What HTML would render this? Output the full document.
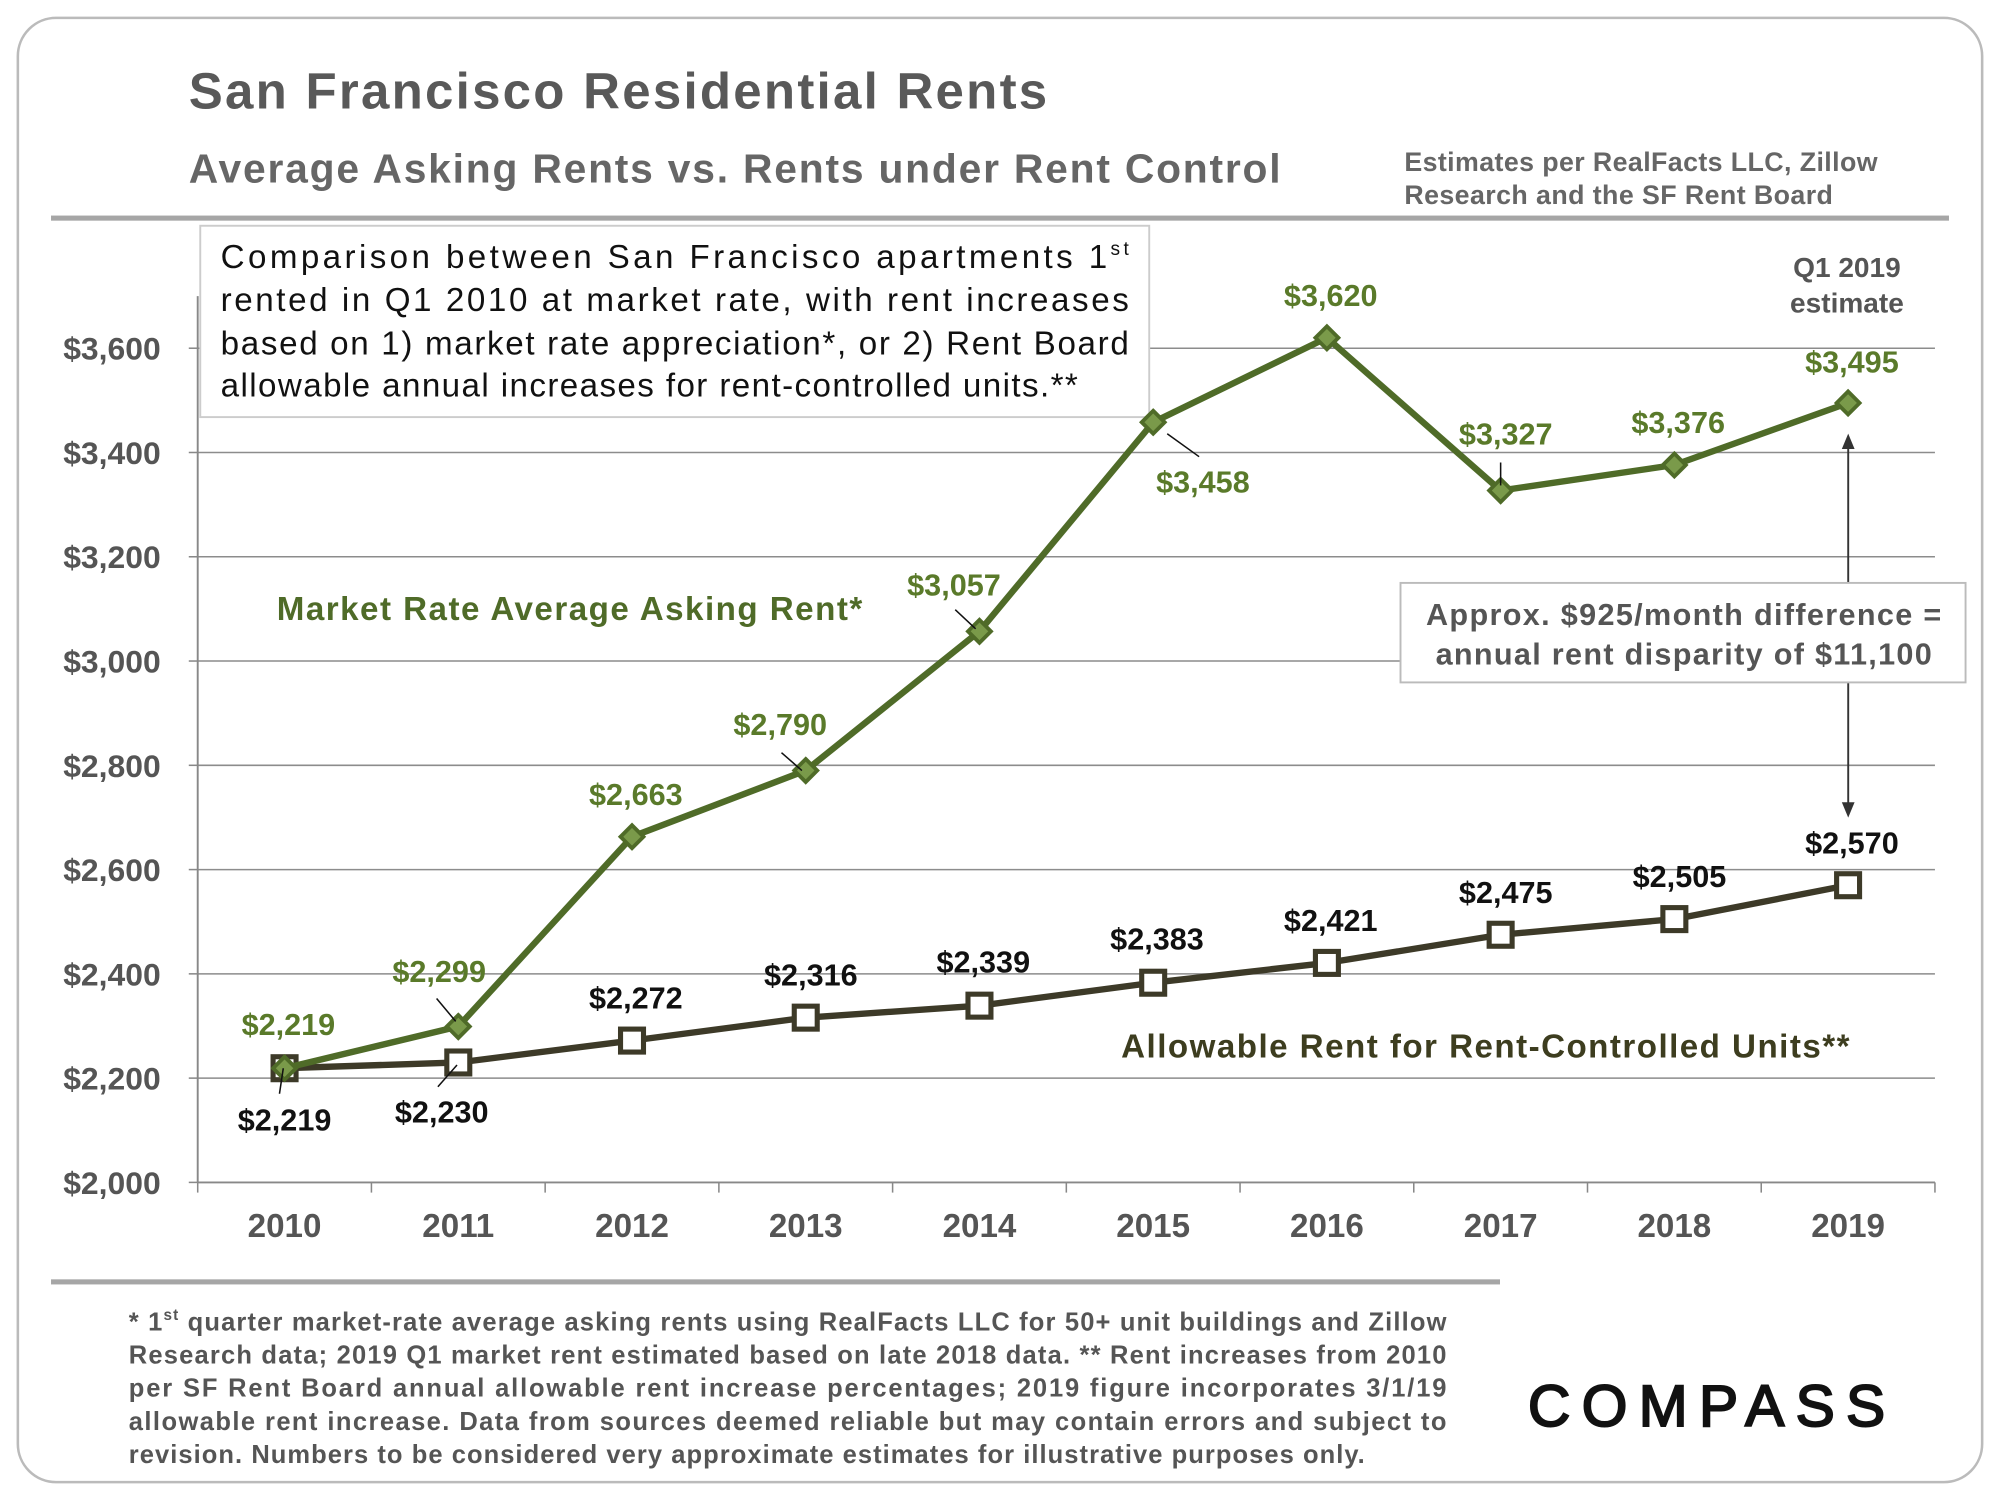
<!DOCTYPE html>
<html><head><meta charset="utf-8"><style>
html,body{margin:0;padding:0;background:#fff}
svg{display:block;font-family:"Liberation Sans",Arial,sans-serif}
</style></head><body>
<svg width="2000" height="1500" viewBox="0 0 1568 1176" xmlns="http://www.w3.org/2000/svg">
<rect x="14" y="14" width="1540" height="1148" rx="30" fill="#fff" stroke="#bbb" stroke-width="2"/>
<text x="148" y="85" font-size="40" font-weight="bold" fill="#595959" textLength="673">San Francisco Residential Rents</text>
<text x="148" y="143" font-size="32" font-weight="bold" fill="#666" textLength="856">Average Asking Rents vs. Rents under Rent Control</text>
<text x="1101" y="134" font-size="21" font-weight="bold" fill="#666" textLength="371">Estimates per RealFacts LLC, Zillow</text>
<text x="1101" y="160" font-size="21" font-weight="bold" fill="#666" textLength="336">Research and the SF Rent Board</text>
<rect x="40" y="169" width="1488" height="4" fill="#a6a6a6"/>
<g id="grid"></g>
<g id="yticks"></g>
<g id="xaxis"></g>
<g>
<rect x="157" y="177" width="744" height="150" fill="#fff" stroke="#ccc" stroke-width="1.5"/>
<g font-size="26" fill="#111">
<text x="173" y="210" textLength="712">Comparison between San Francisco apartments 1<tspan font-size="15" dy="-10">st</tspan></text>
<text x="173" y="244" textLength="712">rented in Q1 2010 at market rate, with rent increases</text>
<text x="173" y="278" textLength="712">based on 1) market rate appreciation*, or 2) Rent Board</text>
<text x="173" y="311" textLength="672">allowable annual increases for rent-controlled units.**</text>
</g></g>
<g id="series"></g>
<text x="217" y="486" font-size="26" font-weight="bold" fill="#4f6b28" textLength="459">Market Rate Average Asking Rent*</text>
<text x="879" y="829" font-size="26" font-weight="bold" fill="#3d3d1f" textLength="571">Allowable Rent for Rent-Controlled Units**</text>
<text x="1448" y="217" font-size="22" font-weight="bold" fill="#555" text-anchor="middle">Q1 2019</text>
<text x="1448" y="245" font-size="22" font-weight="bold" fill="#555" text-anchor="middle">estimate</text>
<g stroke="#333" stroke-width="1.5" fill="#333">
<line x1="1449" y1="350" x2="1449" y2="457"/><line x1="1449" y1="535" x2="1449" y2="632"/>
<polygon points="1449,340 1444,352 1454,352" stroke="none"/><polygon points="1449,641 1444,629 1454,629" stroke="none"/>
</g>
<g>
<rect x="1098" y="457" width="443" height="78" fill="#fff" stroke="#bbb" stroke-width="1.5"/>
<text x="1320" y="490" font-size="24" font-weight="bold" fill="#555" text-anchor="middle" textLength="404">Approx. $925/month difference =</text>
<text x="1320" y="521" font-size="24" font-weight="bold" fill="#555" text-anchor="middle" textLength="389">annual rent disparity of $11,100</text>
</g>
<rect x="40" y="1003" width="1136" height="4" fill="#a6a6a6"/>
<g font-size="20" font-weight="bold" fill="#555">
<text x="101" y="1043" textLength="1033">* 1<tspan font-size="12" dy="-8">st</tspan><tspan dy="8"> quarter market-rate average asking rents using RealFacts LLC for 50+ unit buildings and Zillow</tspan></text>
<text x="101" y="1069" textLength="1033">Research data; 2019 Q1 market rent estimated based on late 2018 data. ** Rent increases from 2010</text>
<text x="101" y="1095" textLength="1033">per SF Rent Board annual allowable rent increase percentages; 2019 figure incorporates 3/1/19</text>
<text x="101" y="1121" textLength="1033">allowable rent increase. Data from sources deemed reliable but may contain errors and subject to</text>
<text x="101" y="1147" textLength="969">revision. Numbers to be considered very approximate estimates for illustrative purposes only.</text>
</g>
<text x="1198" y="1118" font-size="46" fill="#111" stroke="#111" stroke-width="1.6" textLength="286" letter-spacing="6">COMPASS</text>
<script>
const years=['2010','2011','2012','2013','2014','2015','2016','2017','2018','2019'];
const marketRent=[2219,2299,2663,2790,3057,3458,3620,3327,3376,3495];
const controlRent=[2219,2230,2272,2316,2339,2383,2421,2475,2505,2570];
const yTicks=[2000,2200,2400,2600,2800,3000,3200,3400,3600];
const NS='http://www.w3.org/2000/svg';
const X0=155,X1=1517,Y0=927,YMIN=2000,PX=654/1600;
const bw=(X1-X0)/years.length;
function xs(i){return X0+bw*(i+0.5);}
function ys(v){return Y0-(v-YMIN)*PX;}
function fmt(v){return '$'+v.toLocaleString('en-US');}
function mk(tag,attrs,parent){const e=document.createElementNS(NS,tag);for(const k in attrs)e.setAttribute(k,attrs[k]);parent.appendChild(e);return e;}
const grid=document.getElementById('grid'),yt=document.getElementById('yticks'),xa=document.getElementById('xaxis'),ser=document.getElementById('series');
yTicks.forEach(t=>{
  if(t>YMIN){const l=mk('line',{x1:X0,x2:X1,y1:ys(t),y2:ys(t),stroke:'#8c8c8c','stroke-width':1.2},grid);
  
  }
  mk('line',{x1:X0-7,x2:X0,y1:ys(t),y2:ys(t),stroke:'#888','stroke-width':1.2},yt);
  const tx=mk('text',{x:126,y:ys(t)+9,'font-size':25,'font-weight':'bold',fill:'#555','text-anchor':'end'},yt);
  tx.textContent=fmt(t);
  
  
});
mk('line',{x1:X0,x2:X0,y1:ys(3700),y2:Y0,stroke:'#888','stroke-width':1.5},yt);
mk('line',{x1:X0,x2:X1,y1:Y0,y2:Y0,stroke:'#888','stroke-width':1.5},xa);
years.forEach((y,i)=>{
  mk('line',{x1:X0+bw*i,x2:X0+bw*i,y1:Y0,y2:Y0+8,stroke:'#888','stroke-width':1.2},xa);
  const tx=mk('text',{x:xs(i),y:970,'font-size':26,'font-weight':'bold',fill:'#555','text-anchor':'middle'},xa);
  tx.textContent=y;
  
  
});
mk('line',{x1:X1,x2:X1,y1:Y0,y2:Y0+8,stroke:'#888','stroke-width':1.2},xa);
const mOff=[[3,-26],[-15,-35],[3,-25],[-20,-28],[-20,-28],[39,55],[3,-25],[4,-36],[3,-25],[3,-24]];
const cOff=[[0,49],[-13,47],[3,-25],[4,-25],[3,-26],[3,-26],[3,-25],[4,-25],[4,-25],[3,-25]];
function drawSeries(vals,color,marker,offs,lblColor,name){
  const g=mk('g',{},ser);
  
  
  const p=mk('polyline',{points:vals.map((v,i)=>xs(i)+','+ys(v)).join(' '),fill:'none',stroke:color,'stroke-width':5,'stroke-linejoin':'round'},g);
  
  
  vals.forEach((v,i)=>{
    const x=xs(i),y=ys(v);let m;
    if(marker==='diamond'){m=mk('polygon',{points:`${x},${y-9} ${x+9},${y} ${x},${y+9} ${x-9},${y}`,fill:'#7a9a4a',stroke:color,'stroke-width':3},g);}
    else{m=mk('rect',{x:x-9,y:y-9,width:18,height:18,fill:'#fff',stroke:color,'stroke-width':4},g);}
    
    
    const t=mk('text',{x:x+offs[i][0],y:y+offs[i][1],'font-size':24,'font-weight':'bold',fill:lblColor,'text-anchor':'middle'},g);
    t.textContent=fmt(v);
    
    
  });
}
drawSeries(controlRent,'#3d3a28','square',cOff,'#111','control');
drawSeries(marketRent,'#4f6b28','diamond',mOff,'#5a7a2a','market');
function leader(i,v,dx1,dy1,dx2,dy2){const l=mk('line',{x1:xs(i)+dx1,y1:ys(v)+dy1,x2:xs(i)+dx2,y2:ys(v)+dy2,stroke:'#111','stroke-width':1.2},ser);

}
leader(1,marketRent[1],-17,-22,-2,-4);
leader(3,marketRent[3],-19,-14,-3,0);
leader(4,marketRent[4],-19,-17,-3,-2);
leader(5,marketRent[5],11,9,36,27);
leader(7,marketRent[7],0,-22,0,-4);
leader(0,controlRent[0],-1,0,-4,20);
leader(1,controlRent[1],-1,2,-16,19);
</script>
</svg>
</body></html>
